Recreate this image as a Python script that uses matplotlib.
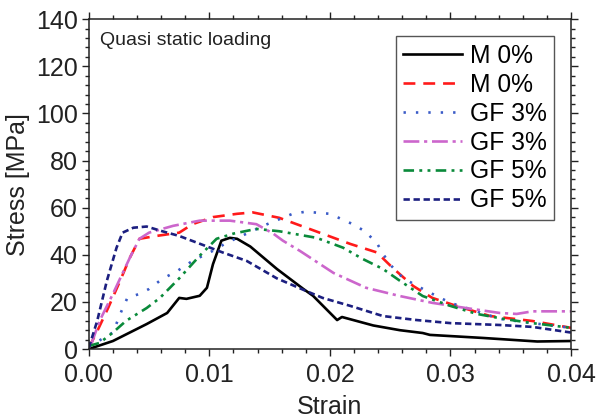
import matplotlib.pyplot as plt
from matplotlib.ticker import MultipleLocator, FormatStrFormatter

plt.rcParams['font.family'] = ['Liberation Sans', 'DejaVu Sans']

# M 0% (solid black)
m0a_x = [0.0, 0.002, 0.0048, 0.0065, 0.0075, 0.0081, 0.0092, 0.0098, 0.0103, 0.011,
         0.0117, 0.0123, 0.0134, 0.0156, 0.0178, 0.0186, 0.0206, 0.021, 0.0236, 0.0258,
         0.0277, 0.0283, 0.0327, 0.0372, 0.04]
m0a_y = [0.0, 3.4, 10.6, 15.3, 21.7, 21.3, 22.6, 26.0, 36.0, 46.0,
         47.2, 46.8, 43.5, 34.0, 25.5, 22.6, 12.3, 13.6, 10.0, 8.0,
         6.8, 6.0, 4.7, 3.2, 3.4]

# M 0% (red dashed)
m0b_x = [0.0, 0.0007, 0.0016, 0.0026, 0.0034, 0.0042, 0.0056, 0.0075, 0.0086, 0.0103,
         0.0123, 0.0136, 0.0158, 0.0183, 0.0217, 0.0239, 0.0252, 0.0269, 0.0285, 0.0305,
         0.0333, 0.0368, 0.04]
m0b_y = [0.5, 7.6, 17.4, 29.0, 38.7, 46.8, 48.0, 49.4, 53.0, 56.0,
         57.4, 58.0, 55.7, 51.0, 44.6, 41.0, 34.5, 26.8, 21.7, 18.3,
         14.0, 11.9, 9.0]

# GF 3% (blue dotted)
gf3a_x = [0.0, 0.002, 0.0027, 0.0032, 0.0042, 0.005, 0.0061, 0.0073, 0.0086, 0.0103,
          0.0114, 0.0131, 0.0148, 0.0169, 0.018, 0.02, 0.0219, 0.0229, 0.0239, 0.0244,
          0.0251, 0.0261, 0.028, 0.03, 0.0322, 0.0341, 0.0368, 0.04]
gf3a_y = [1.0, 7.0, 16.0, 21.7, 23.4, 25.5, 29.8, 33.0, 37.4, 41.7,
          45.0, 49.0, 53.0, 57.4, 58.3, 57.4, 53.0, 50.0, 45.0, 40.4,
          35.3, 30.0, 24.7, 19.6, 16.0, 12.8, 11.0, 9.0]

# GF 3% (magenta dash-dot)
gf3b_x = [0.0002, 0.0009, 0.002, 0.0034, 0.0042, 0.005, 0.007, 0.0092, 0.0117, 0.0139,
          0.0153, 0.0161, 0.0175, 0.0203, 0.023, 0.0258, 0.0285, 0.0313, 0.0341, 0.0355,
          0.0368, 0.04]
gf3b_y = [2.0, 12.0, 23.4, 38.7, 46.8, 49.4, 52.3, 54.5, 54.5, 53.0,
          49.0, 46.0, 41.7, 32.3, 26.0, 22.5, 19.6, 17.4, 15.3, 14.9,
          16.0, 16.0]

# GF 5% (green dash-dot-dot)
gf5a_x = [0.0, 0.0009, 0.002, 0.0031, 0.0048, 0.0059, 0.0075, 0.0092, 0.0106, 0.012,
          0.0139, 0.0158, 0.0189, 0.0211, 0.0227, 0.0244, 0.0258, 0.0277, 0.03, 0.0322,
          0.0344, 0.0368, 0.04]
gf5a_y = [1.3, 2.6, 7.0, 12.0, 17.4, 21.7, 30.0, 39.6, 46.8, 49.0,
          51.0, 50.0, 47.2, 43.0, 38.3, 34.0, 29.0, 22.5, 18.3, 14.9,
          12.8, 11.0, 9.0]

# GF 5% (navy short dashes)
gf5b_x = [0.0, 0.0007, 0.0015, 0.0023, 0.0028, 0.0037, 0.0048, 0.0061, 0.0075, 0.0092,
          0.0111, 0.0131, 0.0156, 0.018, 0.0194, 0.0217, 0.0244, 0.0272, 0.03, 0.0341,
          0.0368, 0.04]
gf5b_y = [0.5, 12.0, 29.0, 43.0, 49.4, 51.5, 52.0, 50.0, 48.0, 44.7,
          41.0, 37.4, 30.0, 24.7, 21.7, 18.3, 14.0, 12.3, 11.0, 10.2,
          9.4, 7.0]

fig = plt.figure(figsize=(5.96, 4.18), dpi=100)
ax = fig.add_axes([0.149, 0.165, 0.809, 0.789])

lw = 1.9
ax.plot(m0a_x, m0a_y, color='black', lw=lw, ls='-', label='M 0%')
ax.plot(m0b_x, m0b_y, color='#ff1a1a', lw=lw, ls=(0, (4.5, 3.0)), label='M 0%')
ax.plot(gf3a_x, gf3a_y, color='#3a5bc7', lw=lw, ls=(0, (0.9, 3.8)), label='GF 3%')
ax.plot(gf3b_x, gf3b_y, color='#cc66cc', lw=lw, ls=(0, (6, 1.8, 1.2, 1.8)), label='GF 3%')
ax.plot(gf5a_x, gf5a_y, color='#0a8a3a', lw=lw, ls=(0, (4, 2, 1.1, 2, 1.1, 2)), label='GF 5%')
ax.plot(gf5b_x, gf5b_y, color='#1c1f80', lw=lw, ls=(0, (2.4, 1.4)), label='GF 5%')

ax.set_xlim(0, 0.04)
ax.set_ylim(0, 140)
ax.xaxis.set_major_locator(MultipleLocator(0.01))
ax.xaxis.set_minor_locator(MultipleLocator(0.002))
ax.xaxis.set_major_formatter(FormatStrFormatter('%.2f'))
ax.yaxis.set_major_locator(MultipleLocator(20))
ax.yaxis.set_minor_locator(MultipleLocator(4))
ax.tick_params(which='both', direction='out', top=True, right=True,
               labelsize=18, colors='#222222', width=1)
ax.tick_params(which='major', length=5)
ax.tick_params(which='minor', length=3)
ax.tick_params(axis='x', which='major', pad=5)
ax.tick_params(axis='y', which='major', pad=3)
for s in ax.spines.values():
    s.set_linewidth(1.1)
    s.set_color('#222222')

ax.set_xlabel('Strain', fontsize=18, color='#222222', labelpad=6)
ax.set_ylabel('Stress [MPa]', fontsize=18, color='#222222', labelpad=4)

ax.text(0.024, 0.96, 'Quasi static loading', transform=ax.transAxes,
        fontsize=14, color='#222222', va='top', ha='left')

leg = ax.legend(loc='upper right', fontsize=17.7, handlelength=2.4, handletextpad=0.3,
                labelspacing=0.2, borderpad=0.3, borderaxespad=0.7,
                fancybox=False, framealpha=1)
leg.get_frame().set_edgecolor('#555555')
leg.get_frame().set_linewidth(1)

fig.savefig('out.png', dpi=100)
